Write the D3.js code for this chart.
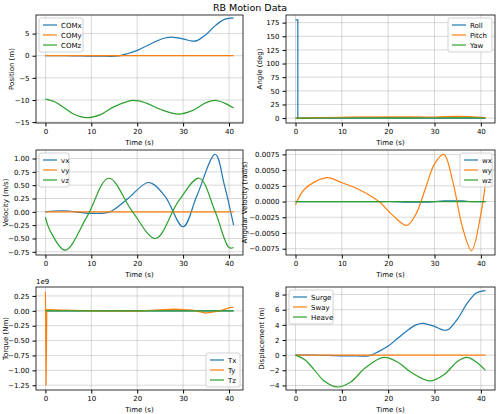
<!DOCTYPE html><html><head><meta charset="utf-8"><script src="https://cdn.jsdelivr.net/npm/d3@7"></script>
<style>body{margin:0;background:#fff}text{font-family:"DejaVu Sans",sans-serif}</style></head><body><svg id="c" width="500" height="414"></svg><script>
const C=["#1f77b4","#ff7f0e","#2ca02c"];
const tPos=[0,4,8,10,12,16,18,20,22,24,26,27.5,30,32,33,35,37,39,40.5,41];
const comx=[0,0.02,-0.05,-0.1,-0.1,-0.05,0.5,1.2,2.2,3.2,4,4.2,3.8,3.3,3.4,4.8,6.8,8.2,8.5,8.5];
const tZ=[0,2,4,6,9,12,15,19,22,25,29,32,35,37,39,41];
const heave=[0,-0.6,-1.9,-3.3,-4.2,-3.5,-1.7,-0.3,-0.9,-2.3,-3.4,-2.6,-0.8,-0.3,-0.9,-2];
const zOff=-9.8;
const tRoll=[0,0.5,0.5,41];const roll=[180,180,0,0];
const tAng=[0,10,20,30,35,41];const pitch=[0,1.5,2.2,2,3,1];const yaw=[0,0.2,0.3,0.2,0.3,0.2];
const tV=[0,1,4.3,9,13.8,19,24,29,33.5,37,40,41];
const vz=[-0.1,-0.35,-0.72,-0.1,0.63,0,-0.5,0.2,0.63,0,-0.67,-0.67];
const tVx=[0,4,10,14,18,22.5,26,30,33,37,39,41];
const vx=[0,0.02,-0.03,0,0.25,0.55,0.3,-0.28,0.3,1.08,0.5,-0.25];
const tW=[0,2,6.7,10,14,18,21,24,26,28,30,32,34,36,38,40,41];
const wy=[-0.0005,0.002,0.0038,0.003,0.0018,0,-0.0022,-0.0038,-0.002,0.002,0.006,0.0075,0.003,-0.004,-0.0078,-0.002,0.003];
const wx=[0,0,0,0,0,0,0,-0.0001,-0.0001,-0.0001,0,0.0001,0.0001,0.0001,0,0,0];
const tT=[0,0.15,0.3,2,10,20,28,32,35,38,40,41];
const ty=[0.32,-1.25,0.02,0.015,0,-0.005,0.03,0.01,-0.04,0,0.05,0.06];
const flat=(t)=>t.map(()=>0);
const svg=d3.select("#c");
svg.append("text").attr("x",250).attr("y",11).attr("text-anchor","middle").attr("font-size",9.5).text("RB Motion Data");
function panel(x0,y0,w,h,yd,ticks,fmt,ylab,series,leg,off){
 const g=svg.append("g");
 const x=d3.scaleLinear().domain([-2.05,43.05]).range([x0,x0+w]);
 const y=d3.scaleLinear().domain(yd).range([y0+h,y0]);
 [0,10,20,30,40].forEach(v=>g.append("line").attr("x1",x(v)).attr("x2",x(v)).attr("y1",y0).attr("y2",y0+h).attr("stroke","#b0b0b0").attr("stroke-width",0.8).attr("opacity",0.6));
 ticks.forEach(v=>g.append("line").attr("x1",x0).attr("x2",x0+w).attr("y1",y(v)).attr("y2",y(v)).attr("stroke","#b0b0b0").attr("stroke-width",0.8).attr("opacity",0.6));
 const clip="cl"+x0+"_"+y0;
 g.append("clipPath").attr("id",clip).append("rect").attr("x",x0).attr("y",y0).attr("width",w).attr("height",h);
 series.forEach(s=>{g.append("path").attr("clip-path",`url(#${clip})`).attr("d",d3.line().x((d,i)=>x(s.t[i])).y(d=>y(d)).curve(s.lin?d3.curveLinear:d3.curveCatmullRom.alpha(0.5))(s.v)).attr("fill","none").attr("stroke",s.c).attr("stroke-width",1.2);});
 g.append("g").attr("transform",`translate(0,${y0+h})`).call(d3.axisBottom(x).tickValues([0,10,20,30,40]).tickSize(3.5)).call(a=>a.selectAll("text").attr("font-size",7));
 g.append("g").attr("transform",`translate(${x0},0)`).call(d3.axisLeft(y).tickValues(ticks).tickFormat(fmt).tickSize(3.5)).call(a=>a.selectAll("text").attr("font-size",7));
 g.selectAll(".domain").remove();
 g.append("rect").attr("x",x0).attr("y",y0).attr("width",w).attr("height",h).attr("fill","none").attr("stroke","#000").attr("stroke-width",0.8);
 g.append("text").attr("x",x0+w/2).attr("y",y0+h+22).attr("text-anchor","middle").attr("font-size",7).text("Time (s)");
 g.append("text").attr("transform",`translate(${x0-(off||27)},${y0+h/2}) rotate(-90)`).attr("text-anchor","middle").attr("font-size",7).text(ylab);
 const lw=leg.w, lh=series.length*10+4;
 const lx=leg.pos.includes("r")?x0+w-lw-3:x0+3, ly=leg.pos.includes("b")?y0+h-lh-3:y0+3;
 g.append("rect").attr("x",lx).attr("y",ly).attr("width",lw).attr("height",lh).attr("fill","#fff").attr("opacity",0.85).attr("stroke","#ccc").attr("rx",2);
 series.forEach((s,i)=>{const yy=ly+7+i*10;g.append("line").attr("x1",lx+4).attr("x2",lx+18).attr("y1",yy).attr("y2",yy).attr("stroke",s.c).attr("stroke-width",1.2);
  g.append("text").attr("x",lx+22).attr("y",yy+2.5).attr("font-size",7).text(s.n);});
 return {x,y};
}
const f0=d3.format("d"), f2=d3.format(".2f"), f4=d3.format(".4f");
const mf=f=>v=>f(v).replace("-","\u2212");
panel(36,15,207,108,[-15.2,9.2],[-15,-10,-5,0,5],mf(f0),"Position (m)",[
 {t:tPos,v:comx,c:C[0],n:"COMx"},{t:tPos,v:flat(tPos),c:C[1],n:"COMy"},{t:tZ,v:heave.map(d=>d+zOff),c:C[2],n:"COMz"}],{pos:"tl",w:44},22);
panel(286,15,209,108,[-9,189],[0,25,50,75,100,125,150,175],mf(f0),"Angle (deg)",[
 {t:tRoll,v:roll,c:C[0],n:"Roll",lin:1},{t:tAng,v:pitch,c:C[1],n:"Pitch"},{t:tAng,v:yaw,c:C[2],n:"Yaw"}],{pos:"tr",w:44},24);
panel(36,150,207,105,[-0.81,1.16],[-0.75,-0.5,-0.25,0,0.25,0.5,0.75,1],mf(f2),"Velocity (m/s)",[
 {t:tVx,v:vx,c:C[0],n:"vx"},{t:tV,v:flat(tV),c:C[1],n:"vy"},{t:tV,v:vz,c:C[2],n:"vz"}],{pos:"tl",w:30},28);
panel(286,150,209,105,[-0.0085,0.0082],[-0.0075,-0.005,-0.0025,0,0.0025,0.005,0.0075],mf(f4),"Angular Velocity (rad/s)",[
 {t:tW,v:wx,c:C[0],n:"wx"},{t:tW,v:wy,c:C[1],n:"wy"},{t:tW,v:flat(tW),c:C[2],n:"wz"}],{pos:"tr",w:32},39);
panel(36,287,207,103,[-1.33,0.4],[-1.25,-1,-0.75,-0.5,-0.25,0,0.25],mf(f2),"Torque (Nm)",[
 {t:tT,v:flat(tT),c:C[0],n:"Tx"},{t:tT,v:ty,c:C[1],n:"Ty",lin:1},{t:tT,v:flat(tT),c:C[2],n:"Tz"}],{pos:"br",w:34},28);
svg.append("text").attr("x",36).attr("y",284).attr("font-size",7).text("1e9");
panel(286,287,209,103,[-4.6,9.0],[-4,-2,0,2,4,6,8],mf(f0),"Displacement (m)",[
 {t:tPos,v:comx,c:C[0],n:"Surge"},{t:tPos,v:flat(tPos),c:C[1],n:"Sway"},{t:tZ,v:heave,c:C[2],n:"Heave"}],{pos:"tl",w:44},22);
</script></body></html>
